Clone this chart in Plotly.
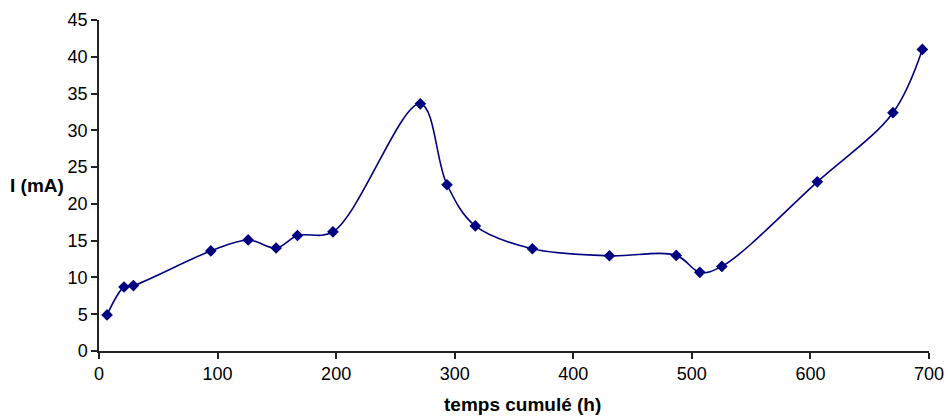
import plotly.graph_objects as go

temps_h = [6.8, 21.1, 29.0, 94.3, 125.8, 149.4, 167.4, 197.3, 271.0, 293.5, 317.4,
           365.5, 430.5, 486.8, 506.7, 525.3, 605.8, 669.6, 694.4]
courant_mA = [4.9, 8.7, 8.9, 13.6, 15.1, 14.0, 15.7, 16.2, 33.6, 22.6, 17.0,
              13.9, 12.95, 13.0, 10.7, 11.5, 23.0, 32.4, 41.0]
x_ticks = [0, 100, 200, 300, 400, 500, 600, 700]
y_ticks = [0, 5, 10, 15, 20, 25, 30, 35, 40, 45]

navy = "#000080"
fam = "Liberation Sans, Arial, sans-serif"
fig = go.Figure()
fig.add_trace(go.Scatter(
    x=temps_h, y=courant_mA, mode="lines+markers",
    line=dict(color=navy, width=1.6, shape="spline", smoothing=1.0),
    marker=dict(symbol="diamond", size=9, color=navy),
    showlegend=False,
))

tick_font = dict(family=fam, size=18, color="black")
axis_common = dict(showgrid=False, zeroline=False, showline=True, linecolor="#222222",
                   linewidth=1.5, ticks="outside", ticklen=6, tickcolor="#222222",
                   tickwidth=1.5, tickfont=tick_font, automargin=False,
                   ticklabeloverflow="allow")
fig.update_layout(
    width=948, height=419, autosize=False,
    margin=dict(l=99, r=19, t=20, b=68),
    paper_bgcolor="white", plot_bgcolor="white",
    font=tick_font,
    xaxis=dict(range=[0, 700], tickvals=x_ticks, **axis_common),
    yaxis=dict(range=[0, 45], tickvals=y_ticks, **axis_common),
)
fig.add_annotation(text="<b>I (mA)</b>", xref="paper", yref="paper",
                   x=-0.040, y=0.5, xanchor="right", yanchor="middle",
                   showarrow=False, font=dict(family=fam, size=19, color="black"))
fig.add_annotation(text="<b>temps cumulé (h)</b>", xref="paper", yref="paper",
                   x=0.51, y=-0.163, xanchor="center", yanchor="middle",
                   showarrow=False, font=dict(family=fam, size=19, color="black"))

fig.write_html("out.html", config={"responsive": False, "displayModeBar": False},
               post_script="document.body.style.margin='0';document.body.style.overflow='hidden';")
